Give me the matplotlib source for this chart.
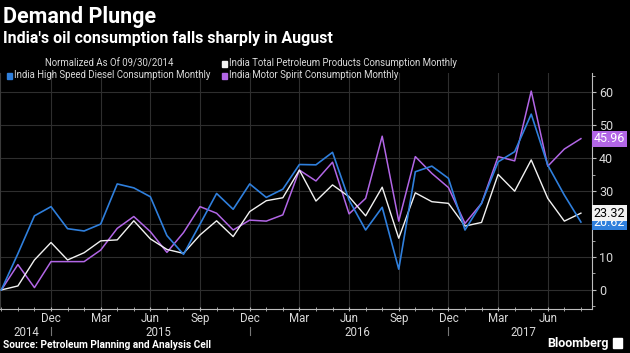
"""
Demand Plunge - consommation de petrole en Inde (normalisee au 30/09/2014).
Reproduction du graphique Bloomberg.
"""
import pandas as pd
import numpy as np
import matplotlib
matplotlib.use("Agg")
import matplotlib.pyplot as plt
from matplotlib.patches import Rectangle

# Donnees, mensuelles Sep 2014 -> Aug 2017
months = pd.date_range("2014-09-01", "2017-08-01", freq="MS")

total = [0, 1.2, 9.1, 14.4, 9.1, 11.3, 14.9, 15.2, 21.0, 15.5, 12.3, 11.1,
         16.7, 21.0, 16.2, 23.8, 27.1, 28.0, 36.4, 27.0, 31.9, 28.3, 22.5, 31.2,
         15.7, 29.5, 26.8, 26.3, 19.4, 20.5, 35.1, 30.0, 39.5, 27.8, 20.9, 23.32]
diesel = [0, 11.0, 22.5, 25.3, 18.6, 17.9, 20.0, 32.2, 31.0, 28.3, 16.5, 10.8,
          20.0, 29.3, 24.5, 32.2, 28.1, 30.6, 38.1, 38.0, 41.8, 27.3, 18.2, 25.1,
          6.3, 35.9, 37.6, 33.9, 18.2, 26.3, 38.9, 42.0, 53.4, 37.9, 28.8, 20.62]
motor = [0, 7.7, 0.7, 8.6, 8.6, 8.6, 12.1, 18.7, 22.3, 17.7, 11.4, 17.4,
         25.3, 23.3, 18.2, 21.2, 20.9, 22.8, 36.4, 33.1, 38.8, 23.1, 27.8, 46.7,
         20.9, 40.5, 35.4, 31.1, 20.2, 26.3, 40.5, 39.2, 60.4, 37.6, 42.8, 45.96]

labels = ["India Total Petroleum Products Consumption Monthly",
          "India High Speed Diesel Consumption Monthly",
          "India Motor Spirit Consumption Monthly"]
years = ["2014", "2015", "2016", "2017"]

WHITE, BLUE, PURPLE = "#f2f2f2", "#2f7fdc", "#b266e6"
GRID, AXC, TXT = "#2e2e2e", "#bdbdbd", "#d9d9d9"

plt.rcParams["font.family"] = ["Roboto", "DejaVu Sans"]

fig = plt.figure(figsize=(6.3, 3.53), dpi=100, facecolor="black")
ax = fig.add_axes([0.0, 1 - 309 / 353, 592 / 630, (309 - 73) / 353])
ax.set_facecolor("black")

x = np.arange(len(months))
ax.plot(x, total, color=WHITE, lw=1.0, zorder=3)
ax.plot(x, diesel, color=BLUE, lw=1.2, zorder=4)
ax.plot(x, motor, color=PURPLE, lw=1.1, zorder=2)

ax.set_xlim(-0.08, 35.67)
ax.set_ylim(-5.8, 65.9)

# axe Y a droite
ax.yaxis.tick_right()
ax.set_yticks(range(0, 61, 10))
ax.set_yticks(range(-5, 66, 5), minor=True)
ax.tick_params(axis="y", which="major", colors=AXC, labelcolor=TXT,
               labelsize=9, length=3, pad=2)
ax.tick_params(axis="y", which="minor", colors=AXC, length=2)
ax.grid(axis="y", which="major", color=GRID, lw=0.8)

# axe X : mois (Dec / Mar / Jun / Sep, sans le premier point)
maj = [i for i, m in enumerate(months) if m.month in (3, 6, 9, 12) and i > 0]
ax.set_xticks(maj)
ax.set_xticklabels([months[i].strftime("%b") for i in maj])
ax.set_xticks(x, minor=True)
ax.tick_params(axis="x", which="major", colors=AXC, labelcolor=TXT,
               labelsize=8.3, length=3, direction="inout", pad=1)
ax.tick_params(axis="x", which="minor", colors=AXC, length=3, direction="inout")
for i in maj:
    ax.axvline(i, color=GRID, lw=0.8, zorder=0)

ax.spines["top"].set_visible(False)
ax.spines["left"].set_color("#3a3a3a")
ax.spines["right"].set_color(AXC)
ax.spines["bottom"].set_color(AXC)

# annees + separateurs
trans = ax.get_xaxis_transform()
for yr in years:
    idx = [i for i, m in enumerate(months) if m.year == int(yr)]
    ax.text(np.mean(idx), -0.099, yr, transform=trans, ha="center",
            va="center", color=TXT, fontsize=8.3)
for i, m in enumerate(months):
    if m.month == 12:
        ax.plot([i, i], [-0.076, -0.11], transform=trans, color="#777777",
                lw=0.8, clip_on=False)

# etiquettes de derniere valeur
def tag(val, fc, tc, z):
    ax.text(1.003, val, f"{val:.2f}", transform=ax.get_yaxis_transform(),
            ha="left", va="center", color=tc, fontsize=9, zorder=z,
            bbox=dict(boxstyle="square,pad=0.12", fc=fc, ec="none"),
            clip_on=False)

tag(diesel[-1], BLUE, "white", 10)
tag(total[-1], WHITE, "black", 11)
tag(motor[-1], PURPLE, "white", 10)

# titres
fig.text(3 / 630, 1 - 17 / 353, "Demand Plunge", color="white",
         fontsize=15.5, fontweight="bold", va="center")
fig.text(3 / 630, 1 - 38 / 353,
         "India's oil consumption falls sharply in August", color="white",
         fontsize=11.5, fontweight="bold", va="center")

# legende
fig.text(109 / 630, 1 - 63.5 / 353, "Normalized As Of 09/30/2014",
         color=TXT, fontsize=6.9, ha="center", va="center")
leg = [(222, 63.5, WHITE, labels[0]),
       (7, 75.5, BLUE, labels[1]),
       (222, 75.5, PURPLE, labels[2])]
for px, py, c, lab in leg:
    fig.patches.append(Rectangle((px / 630, 1 - (py + 3) / 353), 5 / 630,
                                 6 / 353, transform=fig.transFigure,
                                 color=c))
    fig.text((px + 7) / 630, 1 - py / 353, lab, color=TXT, fontsize=6.9,
             va="center")

# source / logo
fig.text(3 / 630, 1 - 345 / 353, "Source: Petroleum Planning and Analysis Cell",
         color="white", fontsize=7.3, fontweight="bold", va="center")
fig.text(609 / 630, 1 - 343 / 353, "Bloomberg", color="white",
         fontsize=9, fontweight="bold", va="center", ha="right")
fig.patches.append(Rectangle((613 / 630, 1 - 348 / 353), 9 / 630, 10 / 353,
                             transform=fig.transFigure, color="white"))

fig.savefig("out.png", dpi=100, facecolor="black")
